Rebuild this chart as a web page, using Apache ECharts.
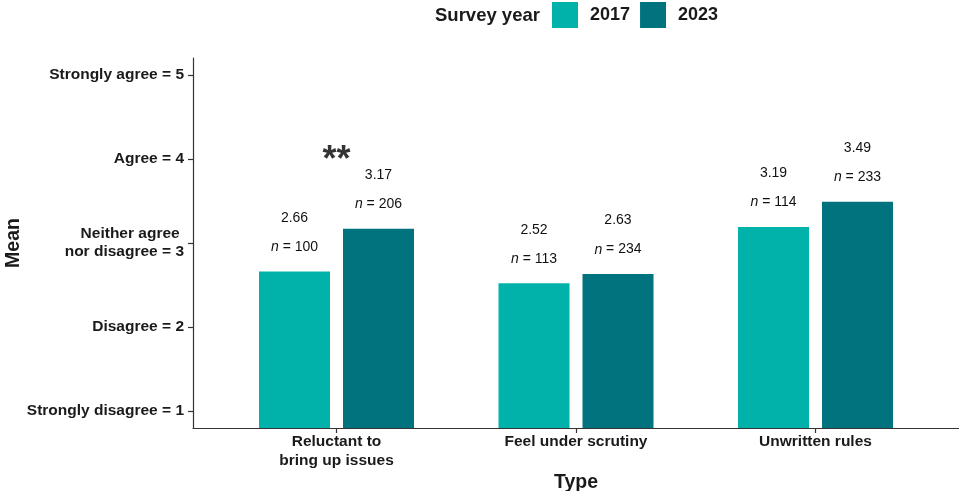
<!DOCTYPE html>
<html>
<head>
<meta charset="utf-8">
<script src="https://cdn.jsdelivr.net/npm/echarts@6/dist/echarts.min.js"></script>
<style>
  html, body { margin: 0; padding: 0; background: #fff; }
  #chart { width: 959px; height: 491px; }
</style>
</head>
<body>
<div id="chart"></div>
<script>
// Survey categories and mean agreement scores per survey year
const categories = ['Reluctant to\nbring up issues', 'Feel under scrutiny', 'Unwritten rules'];
const years = ['2017', '2023'];
const mean2017 = [2.66, 2.52, 3.19];
const mean2023 = [3.17, 2.63, 3.49];
const n2017 = [100, 113, 114];
const n2023 = [206, 234, 233];
const yTickValues = [1, 2, 3, 4, 5];
const yTickLabels = ['Strongly disagree = 1', 'Disagree = 2', 'Neither agree \nnor disagree = 3', 'Agree = 4', 'Strongly agree = 5'];
// Significance marker placed over the first group
const sigMarks = [['Reluctant to\nbring up issues', 4.0, '**']];

const FONT = '"Liberation Sans", Arial, sans-serif';
const AXIS_COLOR = '#333333';
const TEXT_COLOR = '#1a1a1a';
const colors = ['#00b2aa', '#00737f'];
const Y_MIN = 0.8, Y_MAX = 5.2;

function valueLabel(nArr) {
  return {
    show: true,
    position: 'top',
    distance: 10,
    formatter: p => '{v|' + p.value.toFixed(2) + '}\n{i|n}{r| = ' + nArr[p.dataIndex] + '}',
    rich: {
      v: { fontFamily: FONT, fontSize: 14, color: '#111', lineHeight: 29 },
      i: { fontFamily: FONT, fontSize: 14, fontStyle: 'italic', color: '#111', lineHeight: 29 },
      r: { fontFamily: FONT, fontSize: 14, color: '#111', lineHeight: 29 }
    }
  };
}

const chart = echarts.init(document.getElementById('chart'), null, { renderer: 'canvas' });
chart.setOption({
  animation: false,
  backgroundColor: '#ffffff',
  textStyle: { fontFamily: FONT },
  title: {
    text: 'Survey year',
    left: 435,
    top: 6,
    padding: 0,
    textStyle: { fontFamily: FONT, fontSize: 18.5, fontWeight: 'bold', color: TEXT_COLOR }
  },
  legend: {
    data: years,
    left: 552,
    top: 2,
    padding: 0,
    icon: 'rect',
    itemWidth: 26,
    itemHeight: 26,
    itemGap: 10,
    textStyle: { fontFamily: FONT, fontSize: 18, fontWeight: 'bold', color: TEXT_COLOR, padding: [2, 0, 0, 7] }
  },
  grid: [
    // frame grid carrying the visible axes
    { left: 193, right: 0, top: 58, bottom: 63, containLabel: false, outerBoundsMode: 'none' },
    // inner grid for the category bands
    { left: 216.75, right: 23.75, top: 58, bottom: 63, containLabel: false, outerBoundsMode: 'none' }
  ],
  xAxis: [
    {
      gridIndex: 0,
      type: 'value',
      min: 0, max: 1,
      axisLine: { show: true, lineStyle: { color: AXIS_COLOR, width: 1.2 } },
      axisTick: { show: false },
      axisLabel: { show: false },
      splitLine: { show: false },
      name: 'Type',
      nameLocation: 'middle',
      nameGap: 45,
      nameTextStyle: { fontFamily: FONT, fontSize: 19.5, fontWeight: 'bold', color: TEXT_COLOR }
    },
    {
      gridIndex: 1,
      type: 'category',
      data: categories,
      axisLine: { show: false },
      axisTick: { show: true, alignWithLabel: true, length: 5, lineStyle: { color: AXIS_COLOR, width: 1.2 } },
      axisLabel: {
        show: true, margin: 4,
        fontFamily: FONT, fontSize: 15.5, fontWeight: 'bold', color: TEXT_COLOR, lineHeight: 19
      },
      splitLine: { show: false }
    }
  ],
  yAxis: [
    {
      gridIndex: 0,
      type: 'value',
      min: Y_MIN, max: Y_MAX,
      axisLine: { show: true, lineStyle: { color: AXIS_COLOR, width: 1.2 } },
      axisTick: { show: true, length: 5, customValues: yTickValues, lineStyle: { color: AXIS_COLOR, width: 1.2 } },
      axisLabel: {
        show: true, margin: 9, customValues: yTickValues,
        formatter: v => yTickLabels[yTickValues.indexOf(Math.round(v))] || '',
        fontFamily: FONT, fontSize: 15.5, fontWeight: 'bold', color: TEXT_COLOR, lineHeight: 18, align: 'right'
      },
      splitLine: { show: false },
      name: 'Mean',
      nameLocation: 'middle',
      nameGap: 169,
      nameMoveOverlap: false,
      nameRotate: 90,
      nameTextStyle: { fontFamily: FONT, fontSize: 19.5, fontWeight: 'bold', color: TEXT_COLOR }
    },
    {
      gridIndex: 1,
      type: 'value',
      min: Y_MIN, max: Y_MAX,
      show: false
    }
  ],
  series: [
    {
      name: years[0], type: 'bar', xAxisIndex: 1, yAxisIndex: 1,
      data: mean2017, barWidth: 71, barGap: '18.3%',
      itemStyle: { color: colors[0] },
      label: valueLabel(n2017)
    },
    {
      name: years[1], type: 'bar', xAxisIndex: 1, yAxisIndex: 1,
      data: mean2023, barWidth: 71, barGap: '18.3%',
      itemStyle: { color: colors[1] },
      label: valueLabel(n2023)
    },
    {
      name: 'sig', type: 'scatter', xAxisIndex: 1, yAxisIndex: 1,
      data: sigMarks.map(d => [d[0], d[1]]),
      symbolSize: 1,
      itemStyle: { color: 'rgba(0,0,0,0)' },
      silent: true,
      label: {
        show: true, position: 'inside', offset: [0, 2],
        formatter: p => sigMarks[p.dataIndex][2],
        fontFamily: FONT, fontSize: 36, fontWeight: 'bold', color: '#000'
      }
    }
  ]
});
</script>
</body>
</html>
